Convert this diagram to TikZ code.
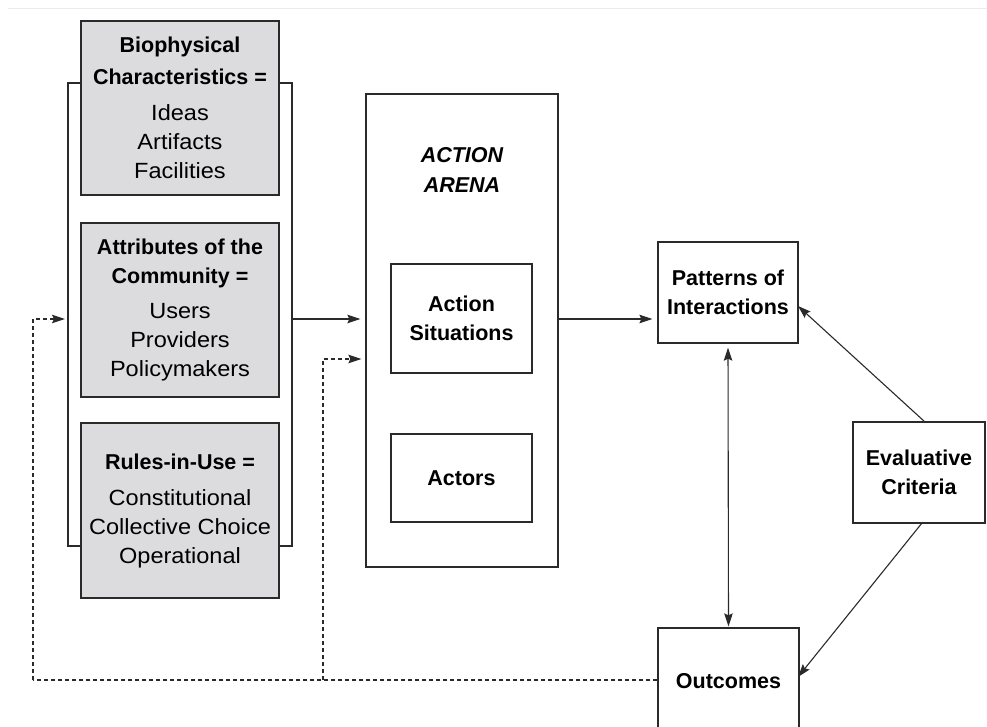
\documentclass[tikz,border=0pt]{standalone}
\usepackage{fontspec}
\setmainfont{Liberation Sans}
\newfontfamily\widefont[FakeStretch=1.07]{Liberation Sans}
\usetikzlibrary{arrows.meta,calc}
\definecolor{boxgray}{HTML}{DCDCDE}
\definecolor{ink}{HTML}{2A2A2A}
\tikzset{
  mytip/.tip={Stealth[length=13pt,width=8.5pt,inset=2pt]},
  graybox/.style={draw=ink, line width=2.6pt, fill=boxgray, align=center, inner sep=0pt, text=black},
  plainbox/.style={draw=ink, line width=1.3pt, align=center, inner sep=0pt, text=black},
  conn/.style={draw=ink, line width=1.1pt},
  arr/.style={conn, -mytip, shorten >=5pt},
  darr/.style={conn, mytip-mytip, shorten >=1pt, shorten <=4pt},
  dashln/.style={draw=ink, line width=1.1pt, dash pattern=on 4pt off 3pt},
  dasharr/.style={dashln, -mytip, shorten >=4pt},
  hd/.style={font=\fontsize{21.5}{29}\selectfont\bfseries},
  rg/.style={font=\widefont\fontsize{22}{29}\selectfont},
}
\newcommand{\hdl}[1]{{\normalfont\fontsize{21.5}{29}\selectfont\bfseries #1}}
\begin{document}
\begin{tikzpicture}[x=1pt,y=-1pt]
\useasboundingbox (0,0) rectangle (987,727);
\clip (0,0) rectangle (987,727);
\fill[white] (0,0) rectangle (987,727);
\draw[gray!15, line width=1pt] (8,9) -- (987,9);

% gray boxes
\node[graybox, rg, minimum width=198pt, minimum height=174pt] (bio) at (180,108)
  {\hdl{Biophysical}\\[3pt]\hdl{Characteristics =}\\[7pt]Ideas\\Artifacts\\Facilities};
\node[graybox, rg, minimum width=198pt, minimum height=174pt] (com) at (180,310)
  {\hdl{Attributes of the}\\[0pt]\hdl{Community =}\\[6pt]Users\\Providers\\Policymakers};
\node[graybox, rg, minimum width=198pt, minimum height=175pt] (rul) at (180,510.5)
  {\hdl{Rules-in-Use =}\\[7pt]Constitutional\\Collective Choice\\Operational};

% bracket
\coordinate (bl1) at (81,83);
\coordinate (bl2) at (68,83);
\coordinate (bl3) at (68,546);
\coordinate (bl4) at (81,546);
\coordinate (br1) at (279,83);
\coordinate (br2) at (292,83);
\coordinate (br3) at (292,546);
\coordinate (br4) at (279,546);
\draw[conn] (bl1) -- (bl2) -- (bl3) -- (bl4);
\draw[conn] (br1) -- (br2) -- (br3) -- (br4);
\coordinate (bout) at (292,319);
\coordinate (bin) at (69,319);

% action arena
\node[plainbox, minimum width=192pt, minimum height=473pt] (arena) at (462,330.5) {};
\node[font=\fontsize{21.5}{30}\selectfont\bfseries\itshape, align=center, text=black] (arenalbl) at (462,170) {ACTION\\ARENA};
\node[plainbox, hd, minimum width=141pt, minimum height=109pt] (sit) at (461.5,318.5) {Action\\Situations};
\node[plainbox, hd, minimum width=141pt, minimum height=88pt] (act) at (461.5,478) {Actors};

% right side
\node[plainbox, hd, minimum width=140pt, minimum height=101pt] (pat) at (728,292.5) {Patterns of\\Interactions};
\node[plainbox, hd, minimum width=141pt, minimum height=106pt] (out) at (728.5,681) {Outcomes};
\node[plainbox, hd, minimum width=132pt, minimum height=101pt] (eva) at (919,472.5) {Evaluative\\Criteria};

% connectors
\draw[arr] (bout) -- (arena.west |- bout);
\draw[arr] (arena.east |- bout) -- (pat.west |- bout);
\draw[darr] (pat.south) -- (out.north);
\coordinate (evt) at (925,422);
\coordinate (evb) at (922,523);
\coordinate (patr) at (798,306);
\coordinate (outr) at (798,677);
\draw[arr, shorten >=0pt] (evt) -- (patr);
\draw[arr, shorten >=0pt] (evb) -- (outr);

% dashed feedback
\coordinate (d1) at (33,680);
\coordinate (d2) at (33,319);
\coordinate (d3) at (323,680);
\coordinate (d4) at (323,359);
\draw[dashln] (out.west |- d1) -- (d1);
\draw[dasharr] (d1) -- (d2) -- (bin);
\draw[dasharr] (d3) -- (d4) -- (arena.west |- d4);
\end{tikzpicture}
\end{document}
